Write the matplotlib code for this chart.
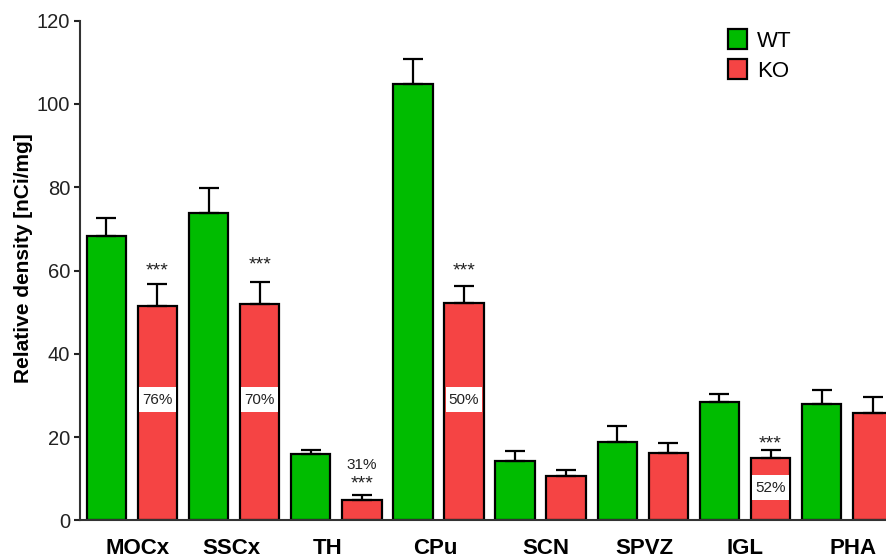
import numpy as np
import matplotlib.pyplot as plt

plt.rcParams['font.family'] = ['Liberation Sans', 'DejaVu Sans']

# regions and measured densities [nCi/mg]
regions = ['MOCx', 'SSCx', 'TH', 'CPu', 'SCN', 'SPVZ', 'IGL', 'PHA']
wt_mean = [68.2, 73.9, 16.0, 104.8, 14.2, 18.9, 28.5, 27.9]
wt_err = [4.5, 6.0, 1.0, 6.1, 2.4, 3.8, 1.9, 3.5]
ko_mean = [51.6, 51.9, 4.9, 52.3, 10.6, 16.3, 14.9, 25.7]
ko_err = [5.1, 5.3, 1.1, 3.9, 1.5, 2.4, 2.0, 4.0]

# the region names are not quite centred under their groups in the original
label_nudge = [0.11, -0.05, -0.17, -0.06, 0.1, 0.04, 0.0, 0.11]

# significance / percent annotations on KO bars
stars_idx = [0, 1, 2, 3, 6]
stars_y = [60.0, 61.3, 8.8, 60.0, 18.3]
pct_inside = {0: ('76%', 29.0), 1: ('70%', 29.0), 3: ('50%', 29.0), 6: ('52%', 7.9)}
pct_above = {2: ('31%', 13.3)}

green = '#00BC00'
red = '#F54444'

fig = plt.figure(figsize=(8.86, 5.59), dpi=100)
ax = fig.add_axes([0.0903, 0.069, 0.9097, 0.894])

n = len(regions)
x_wt = np.arange(n) * 2
x_ko = x_wt + 1
w = 0.773

err_kw = dict(ecolor='black', elinewidth=1.6, capsize=7, capthick=1.6)
ax.bar(x_wt, wt_mean, w, color=green, edgecolor='black', linewidth=1.6,
       yerr=[np.zeros(n), wt_err], error_kw=err_kw, label='WT', zorder=2)
ax.bar(x_ko, ko_mean, w, color=red, edgecolor='black', linewidth=1.6,
       yerr=[np.zeros(n), ko_err], error_kw=err_kw, label='KO', zorder=2)

for i, y in zip(stars_idx, stars_y):
    ax.text(x_ko[i], y, '***', ha='center', va='center', fontsize=14, color='#222222')

for i, (txt, y) in pct_inside.items():
    ax.bar(x_ko[i], 6.0, w - 0.06, bottom=y - 3.0, color='white', linewidth=0, zorder=3)
    ax.text(x_ko[i], y, txt, ha='center', va='center', fontsize=11, color='#222222', zorder=4)

for i, (txt, y) in pct_above.items():
    ax.text(x_ko[i], y, txt, ha='center', va='center', fontsize=11, color='#222222')

ax.set_xlim(-0.515, 15.26)
ax.set_ylim(0, 120)
ax.set_yticks([0, 20, 40, 60, 80, 100, 120])
ax.set_xticks(x_wt + 0.5 + np.array(label_nudge))
ax.set_xticklabels(regions, fontsize=16, fontweight='bold')
ax.tick_params(axis='x', length=0, pad=13)
ax.tick_params(axis='y', labelsize=14.5, length=4, width=1.5, pad=3, colors='#222222')
ax.set_ylabel('Relative density [nCi/mg]', fontsize=15, fontweight='bold')
ax.yaxis.set_label_coords(-0.058, 0.525)

ax.spines['top'].set_visible(False)
ax.spines['right'].set_visible(False)
ax.spines['left'].set_linewidth(1.5)
ax.spines['bottom'].set_linewidth(1.5)
ax.spines['left'].set_color('#333333')
ax.spines['bottom'].set_color('#333333')

ax.legend(loc='upper left', bbox_to_anchor=(728 / 886, 1 - 29 / 559),
          bbox_transform=fig.transFigure, frameon=False,
          fontsize=16, handlelength=0.86, handleheight=1.0, handletextpad=0.44,
          labelspacing=0.35, borderpad=0, borderaxespad=0)

fig.savefig('out.png', dpi=100)
